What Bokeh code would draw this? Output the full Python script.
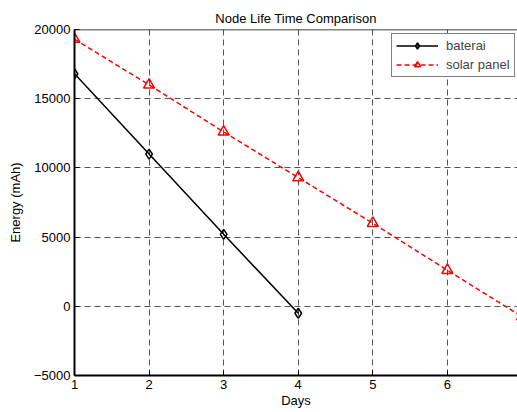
from bokeh.plotting import figure
from bokeh.models import Range1d, Span, Legend, LegendItem, FixedTicker
from bokeh.embed import file_html
from bokeh.resources import INLINE

days_bat = [1, 2, 3, 4]
baterai = [16800, 11000, 5200, -500]
days_sol = [1, 2, 3, 4, 5, 6, 7]
solar = [19300, 16000, 12600, 9300, 6000, 2600, -750]
x_ticks = [1, 2, 3, 4, 5, 6]
y_ticks = [-5000, 0, 5000, 10000, 15000, 20000]

FONT = "Liberation Sans"

p = figure(width=517, height=412, output_backend="svg", toolbar_location=None,
           x_range=Range1d(1, 6.94), y_range=Range1d(-5000, 20000),
           title="Node Life Time Comparison",
           min_border_left=74, min_border_right=0, min_border_top=29, min_border_bottom=37)

p.title.align = "center"
p.title.text_font = FONT
p.title.text_font_size = "13px"
p.title.text_font_style = "normal"
p.title.text_color = "black"
p.title.standoff = 8

p.outline_line_color = None
p.background_fill_color = "white"
p.border_fill_color = "white"

for ax in (p.xaxis[0], p.yaxis[0]):
    ax.axis_line_color = "black"
    ax.axis_line_width = 2
    ax.major_tick_in = 5
    ax.major_tick_out = 0
    ax.minor_tick_line_color = None
    ax.major_label_text_font = FONT
    ax.major_label_text_font_size = "13px"
    ax.major_label_text_color = "black"
    ax.axis_label_text_font = FONT
    ax.axis_label_text_font_size = "13px"
    ax.axis_label_text_font_style = "normal"
    ax.axis_label_text_color = "black"

p.xaxis.ticker = FixedTicker(ticks=x_ticks)
p.yaxis.ticker = FixedTicker(ticks=y_ticks)
p.xaxis.axis_label = "Days"
p.yaxis.axis_label = "Energy (mAh)"
p.xaxis.major_label_standoff = 4
p.yaxis.major_label_standoff = 4
p.xaxis.axis_label_standoff = 1
p.yaxis.axis_label_standoff = 8

for g in (p.xgrid[0], p.ygrid[0]):
    g.grid_line_color = "#555555"
    g.grid_line_dash = "6 4"
    g.grid_line_width = 1

p.add_layout(Span(location=20000, dimension="width", line_color="black", line_width=1.5))

l1 = p.line(days_bat, baterai, line_color="black", line_width=1.5)
s1 = p.scatter(days_bat, baterai, marker="diamond", size=10, fill_color=None,
               line_color="black", line_width=1.5)
l2 = p.line(days_sol, solar, line_color="red", line_width=1.5, line_dash="5 3")
s2 = p.scatter(days_sol, solar, marker="triangle", size=11, fill_color=None,
               line_color="red", line_width=1.5)

legend = Legend(items=[LegendItem(label="baterai", renderers=[l1, s1]),
                       LegendItem(label="solar panel", renderers=[l2, s2])],
                location=(317, 298))
legend.label_text_font = FONT
legend.label_text_font_size = "13px"
legend.border_line_color = "black"
legend.border_line_width = 1
legend.glyph_width = 42
legend.glyph_height = 15
legend.label_height = 15
legend.spacing = 4
legend.padding = 4
legend.margin = 0
legend.label_standoff = 8
p.add_layout(legend)

open("out.html", "w").write(file_html(p, INLINE))
